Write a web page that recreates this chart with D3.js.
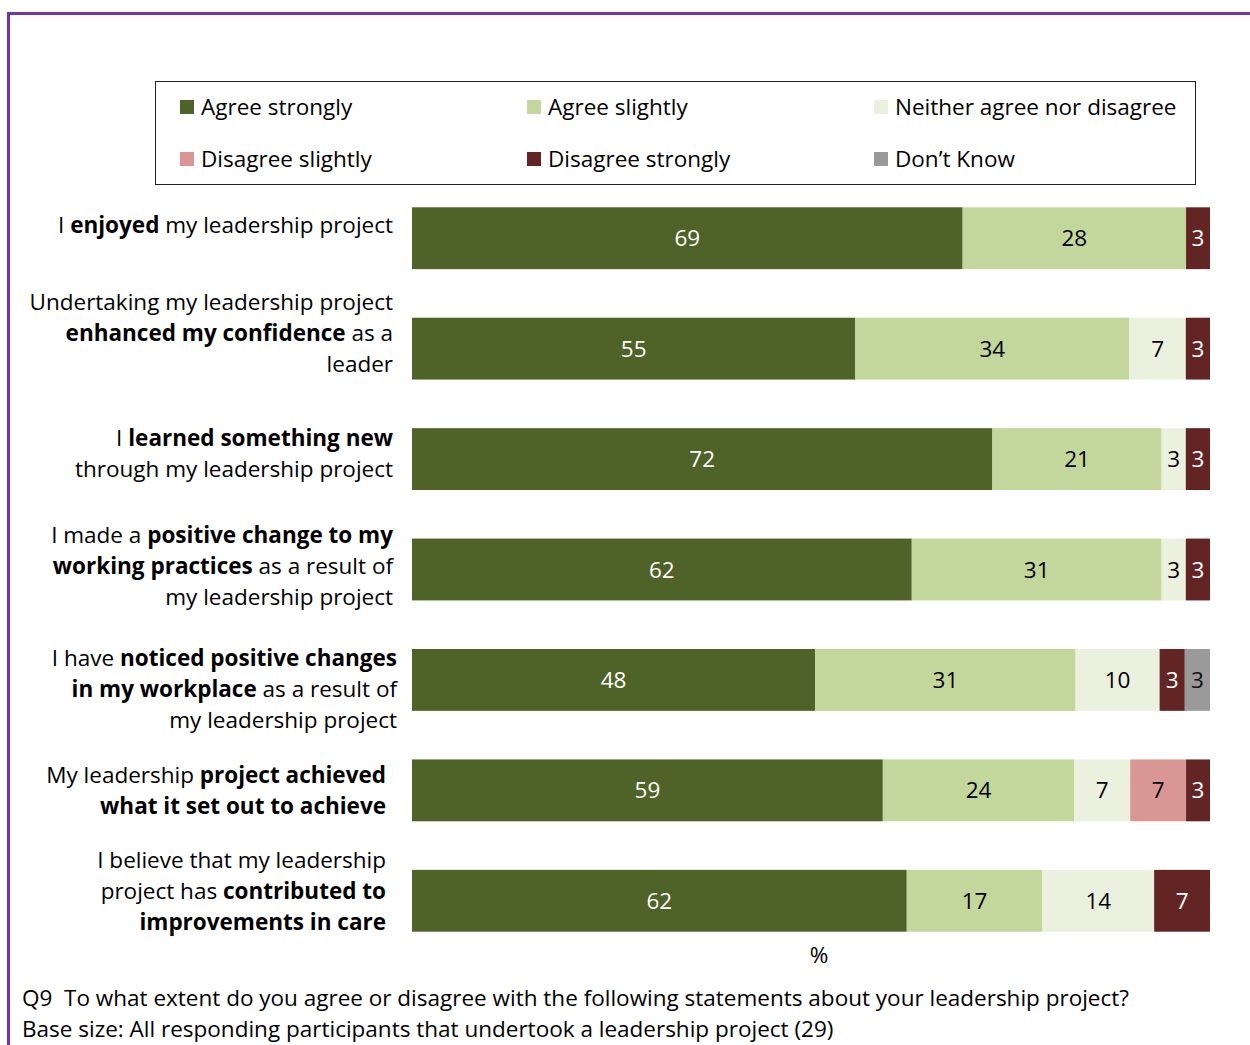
<!DOCTYPE html>
<html>
<head>
<meta charset="utf-8">
<script src="https://cdn.jsdelivr.net/npm/d3@7"></script>
<style>
  html, body { margin: 0; padding: 0; background: #fff; }
  svg { display: block; }
  text { font-family: "Open Sans", "Noto Sans", sans-serif; }
  .note { white-space: pre; }
</style>
</head>
<body>
<svg id="chart" width="1250" height="1045"></svg>
<script>
// Response categories, in stacking order
const seriesNames = ["Agree strongly", "Agree slightly", "Neither agree nor disagree",
                     "Disagree slightly", "Disagree strongly", "Don\u2019t Know"];
const seriesColors = ["#4F6228", "#C3D69B", "#EBF1DE", "#D99694", "#632523", "#9A9A9A"];
const seriesTextColors = ["#ffffff", "#000000", "#000000", "#000000", "#ffffff", "#111111"];

// Statements; ** marks bold runs, | marks a line break
const statements = [
  "I **enjoyed** my leadership project",
  "Undertaking my leadership project|**enhanced my confidence** as a|leader",
  "I **learned something new**|through my leadership project",
  "I made a **positive change to my**|**working practices** as a result of|my leadership project",
  "I have **noticed positive changes**|**in my workplace** as a result of|my leadership project",
  "My leadership **project achieved**|**what it set out to achieve**",
  "I believe that my leadership|project has **contributed to**|**improvements in care**"
];

// Percentages per statement, one array per response category
const agreeStrongly    = [69, 55, 72, 62, 48, 59, 62];
const agreeSlightly    = [28, 34, 21, 31, 31, 24, 17];
const neither          = [0, 7, 3, 3, 10, 7, 14];
const disagreeSlightly = [0, 0, 0, 0, 0, 7, 0];
const disagreeStrongly = [3, 3, 3, 3, 3, 3, 7];
const dontKnow         = [0, 0, 0, 0, 3, 0, 0];

const axisLabel = "%";
const footnotes = [
  "Q9  To what extent do you agree or disagree with the following statements about your leadership project?",
  "Base size: All responding participants that undertook a leadership project (29)"
];

// Build table rows for d3.stack
const seriesValues = [agreeStrongly, agreeSlightly, neither, disagreeSlightly, disagreeStrongly, dontKnow];
const rows = statements.map((s, i) => {
  const r = { statement: s };
  seriesNames.forEach((n, k) => { r[n] = seriesValues[k][i]; });
  return r;
});

const FS = 22.5;
const svg = d3.select("#chart");

// Frame
svg.append("path")
  .attr("d", "M8.5,1045 L8.5,13.5 L1250,13.5")
  .attr("fill", "none")
  .attr("stroke", "#7535A8")
  .attr("stroke-width", 3);

// Scales
const x = d3.scaleLinear().domain([0, 1]).range([412, 1210]);
const y = d3.scaleBand().domain(statements).range([183, 956])
  .paddingInner(0.44).paddingOuter(0.22);
const color = d3.scaleOrdinal().domain(seriesNames).range(seriesColors);
const textColor = d3.scaleOrdinal().domain(seriesNames).range(seriesTextColors);

// Each bar shows its row's shares of the total
const stacked = d3.stack().keys(seriesNames).offset(d3.stackOffsetExpand)(rows);

const layers = svg.append("g").selectAll("g")
  .data(stacked).join("g")
  .attr("fill", d => color(d.key));

layers.selectAll("rect")
  .data(d => d.filter(p => p.data[d.key] > 0))
  .join("rect")
  .attr("x", p => x(p[0]))
  .attr("y", p => y(p.data.statement))
  .attr("width", p => x(p[1]) - x(p[0]))
  .attr("height", y.bandwidth());

// Value labels inside segments
const valueLabels = svg.append("g").attr("font-size", FS).attr("text-anchor", "middle");
stacked.forEach(layer => {
  valueLabels.selectAll(null)
    .data(layer.filter(p => p.data[layer.key] > 0))
    .join("text")
    .attr("x", p => (x(p[0]) + x(p[1])) / 2)
    .attr("y", p => y(p.data.statement) + y.bandwidth() / 2)
    .attr("dy", "0.36em")
    .attr("fill", textColor(layer.key))
    .text(p => p.data[layer.key]);
});

// Statement labels: right-aligned, multi-line with bold runs
const labelRight = [393, 393, 393, 393, 397, 386, 386];
const labelShift = [-13, -16, -6, -4, 9, 0, -10];
const lineHeight = 31;
const labelGroup = svg.append("g").attr("font-size", FS).attr("text-anchor", "end").attr("fill", "#000");
statements.forEach((s, i) => {
  const lines = s.split("|");
  const cy = y(s) + y.bandwidth() / 2 + labelShift[i];
  const top = cy - (lines.length - 1) * lineHeight / 2;
  lines.forEach((line, j) => {
    const t = labelGroup.append("text")
      .attr("x", labelRight[i])
      .attr("y", top + j * lineHeight)
      .attr("dy", "0.36em");
    line.split("**").forEach((part, k) => {
      if (!part) return;
      t.append("tspan")
        .attr("font-weight", k % 2 === 1 ? 700 : 400)
        .text(part);
    });
  });
});

// Axis title
svg.append("text")
  .attr("x", 819).attr("y", 955).attr("dy", "0.36em")
  .attr("text-anchor", "middle").attr("font-size", FS)
  .text(axisLabel);

// Legend
const legend = svg.append("g");
legend.append("rect")
  .attr("x", 155.5).attr("y", 81.5).attr("width", 1040).attr("height", 103)
  .attr("fill", "#fff").attr("stroke", "#222").attr("stroke-width", 1);
const legendCols = [180, 527, 874];
const legendRows = [107, 159];
seriesNames.forEach((n, i) => {
  const lx = legendCols[i % 3], ly = legendRows[Math.floor(i / 3)];
  legend.append("rect")
    .attr("x", lx).attr("y", ly - 7).attr("width", 14).attr("height", 14)
    .attr("fill", color(n));
  legend.append("text")
    .attr("x", lx + 21).attr("y", ly).attr("dy", "0.36em")
    .attr("font-size", FS).text(n);
});

// Footnotes
svg.append("g").attr("font-size", FS).selectAll("text")
  .data(footnotes).join("text")
  .attr("class", "note")
  .attr("x", 22).attr("y", (d, i) => 998 + i * 31).attr("dy", "0.36em")
  .text(d => d);
</script>
</body>
</html>
